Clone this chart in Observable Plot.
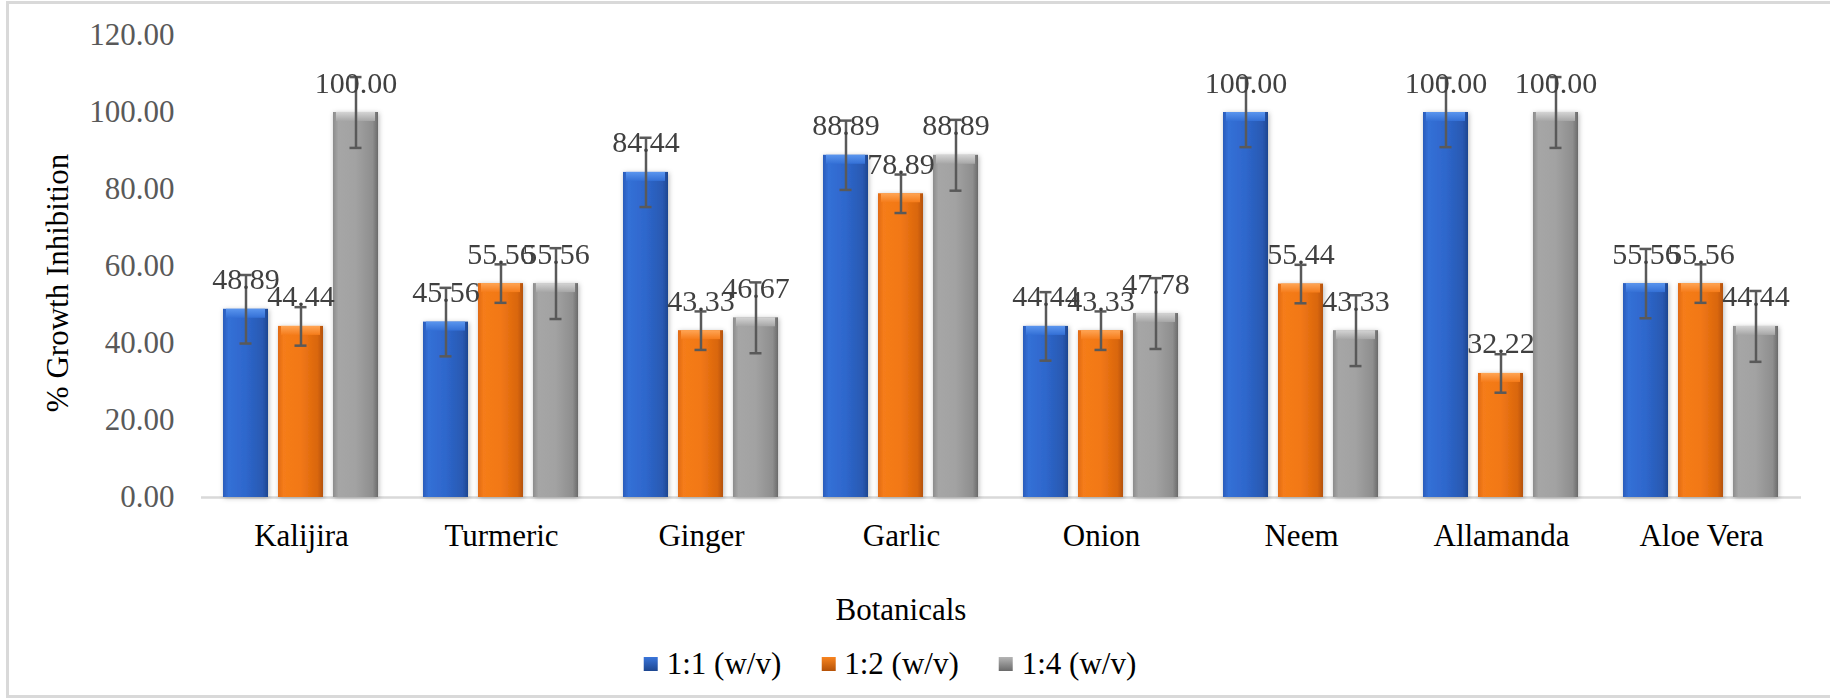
<!DOCTYPE html>
<html>
<head>
<meta charset="utf-8">
<script src="https://cdn.jsdelivr.net/npm/d3@7"></script>
<script src="https://cdn.jsdelivr.net/npm/@observablehq/plot@0.6"></script>
<style>
  html, body { margin: 0; padding: 0; background: #fff; width: 1830px; height: 699px; overflow: hidden;
    font-family: "Liberation Serif", "Times New Roman", serif; }
  #wrap { position: relative; width: 1830px; height: 699px; }
  #border { position: absolute; left: 6px; top: 1px; width: 1850px; height: 697px; border: 3px solid #d9d9d9; box-sizing: border-box; }
  #chart { position: absolute; left: 0; top: 0; }
  #ytitle { position: absolute; left: 57px; top: 283px; transform: translate(-50%, -50%) rotate(-90deg);
    white-space: nowrap; font-size: 31px; line-height: 1; color: #000; }
  #xtitle { position: absolute; left: 901px; top: 594px; transform: translateX(-50%); font-size: 31px; line-height: 1; color: #000; white-space: nowrap; }
  #legend { position: absolute; left: 890px; top: 648px; transform: translateX(-50%); display: flex; gap: 40px;
    font-size: 31px; line-height: 1; color: #000; white-space: nowrap; }
  .item { display: flex; align-items: center; }
  .sw { width: 14px; height: 14px; margin-right: 9px; }
</style>
</head>
<body>
<div id="wrap">
  <div id="border"></div>
  <div id="chart"></div>
  <div id="ytitle">% Growth Inhibition</div>
  <div id="xtitle">Botanicals</div>
  <div id="legend"></div>
</div>
<script>
// ---- Data ----
const categories = ["Kalijira", "Turmeric", "Ginger", "Garlic", "Onion", "Neem", "Allamanda", "Aloe Vera"];
const series = ["1:1 (w/v)", "1:2 (w/v)", "1:4 (w/v)"];
const values11 = [48.89, 45.56, 84.44, 88.89, 44.44, 100.00, 100.00, 55.56];
const values12 = [44.44, 55.56, 43.33, 78.89, 43.33, 55.44, 32.22, 55.56];
const values14 = [100.00, 55.56, 46.67, 88.89, 47.78, 43.33, 100.00, 44.44];
const errors11 = [8.9, 8.9, 9.0, 9.0, 8.9, 9.0, 9.0, 9.0];
const errors12 = [5.0, 5.0, 5.0, 5.0, 5.0, 5.0, 5.0, 5.0];
const errors14 = [9.2, 9.2, 9.2, 9.2, 9.2, 9.2, 9.2, 9.2];
const yTicks = [0, 20, 40, 60, 80, 100, 120];

const allValues = [values11, values12, values14];
const allErrors = [errors11, errors12, errors14];
const data = categories.flatMap((c, i) => series.map((s, j) => ({
  category: c, series: s, value: allValues[j][i], error: allErrors[j][i]
})));

const fills = ["url(#gBlue)", "url(#gOrange)", "url(#gGray)"];
const bevels = ["url(#bBlue)", "url(#bOrange)", "url(#bGray)"];

const chart = Plot.plot({
  width: 1830,
  height: 580,
  marginLeft: 200,
  marginRight: 29,
  marginTop: 35,
  marginBottom: 83,
  style: { fontFamily: "Liberation Serif, Times New Roman, serif", fontSize: "31px", background: "transparent" },
  fx: { domain: categories, padding: 0, label: null },
  x: { domain: series, paddingInner: 0.1818, paddingOuter: 0.409, axis: null },
  y: { domain: [0, 120], label: null },
  marks: [
    Plot.ruleY([0], { stroke: "#d9d9d9", strokeWidth: 2.5 }),
    ...series.map((s, j) => Plot.barY(data, {
      filter: d => d.series === s, fx: "category", x: "series", y: "value",
      fill: fills[j], ariaDescription: "main"
    })),
    ...series.map((s, j) => Plot.barY(data, {
      filter: d => d.series === s, fx: "category", x: "series", y1: "value", y2: "value",
      insetBottom: -9, insetLeft: 3, insetRight: 3, fill: bevels[j], ariaDescription: "bevel"
    })),
    Plot.ruleX(data, {
      fx: "category", x: "series", y1: d => d.value - d.error, y2: d => d.value + d.error,
      stroke: "#595959", strokeWidth: 2.5
    }),
    Plot.tickY(data, {
      fx: "category", x: "series", y: d => d.value - d.error,
      stroke: "#595959", strokeWidth: 2.5, insetLeft: 16.5, insetRight: 16.5
    }),
    Plot.tickY(data, {
      fx: "category", x: "series", y: d => d.value + d.error,
      stroke: "#595959", strokeWidth: 2.5, insetLeft: 16.5, insetRight: 16.5
    }),
    Plot.text(data, {
      fx: "category", x: "series", y: "value", text: d => d.value.toFixed(2),
      lineAnchor: "bottom", dy: -20, fill: "#404040", fontSize: 30
    }),
    Plot.axisY({ ticks: yTicks, tickFormat: d3.format(".2f"), tickSize: 0, tickPadding: 27,
      label: null, fontSize: 31, color: "#595959" }),
    Plot.axisFx({ anchor: "bottom", tickSize: 0, tickPadding: 26, label: null, fontSize: 31, color: "#000" })
  ]
});

// gradients & shadow
const svg = d3.select(chart);
const defs = svg.insert("defs", ":first-child");
function grad(id, stops, vertical) {
  const g = defs.append("linearGradient").attr("id", id)
    .attr("x1", 0).attr("y1", 0).attr("x2", vertical ? 0 : 1).attr("y2", vertical ? 1 : 0);
  stops.forEach(([o, c]) => g.append("stop").attr("offset", o).attr("stop-color", c));
}
grad("gBlue", [[0, "#2a5cba"], [0.12, "#3470d6"], [0.5, "#2e67cc"], [0.88, "#2959b2"], [1, "#1d4690"]]);
grad("gOrange", [[0, "#e06a12"], [0.12, "#f57c1a"], [0.5, "#f27816"], [0.88, "#d9660c"], [1, "#b55208"]]);
grad("gGray", [[0, "#8c8c8c"], [0.12, "#a6a6a6"], [0.5, "#a2a2a2"], [0.88, "#8e8e8e"], [1, "#6a6a6a"]]);
grad("bBlue", [[0, "#5a95ee"], [1, "#3470d6"]], true);
grad("bOrange", [[0, "#ffa555"], [1, "#f57c1a"]], true);
grad("bGray", [[0, "#d4d4d4"], [1, "#a6a6a6"]], true);
const f = defs.append("filter").attr("id", "sh").attr("x", "-30%").attr("y", "-10%").attr("width", "160%").attr("height", "130%");
f.append("feDropShadow").attr("dx", 1).attr("dy", 1).attr("stdDeviation", 2.5)
  .attr("flood-color", "#000").attr("flood-opacity", 0.28);
svg.selectAll('g[aria-description="main"]').attr("filter", "url(#sh)");

document.getElementById("chart").appendChild(chart);

// legend
const legendColors = [["#3a75da", "#1d4690"], ["#f8841f", "#b55208"], ["#b5b5b5", "#6a6a6a"]];
const legend = d3.select("#legend");
series.forEach((s, j) => {
  const it = legend.append("div").attr("class", "item");
  it.append("div").attr("class", "sw")
    .style("background", `linear-gradient(180deg, ${legendColors[j][0]}, ${legendColors[j][1]})`);
  it.append("span").text(s);
});
</script>
</body>
</html>
